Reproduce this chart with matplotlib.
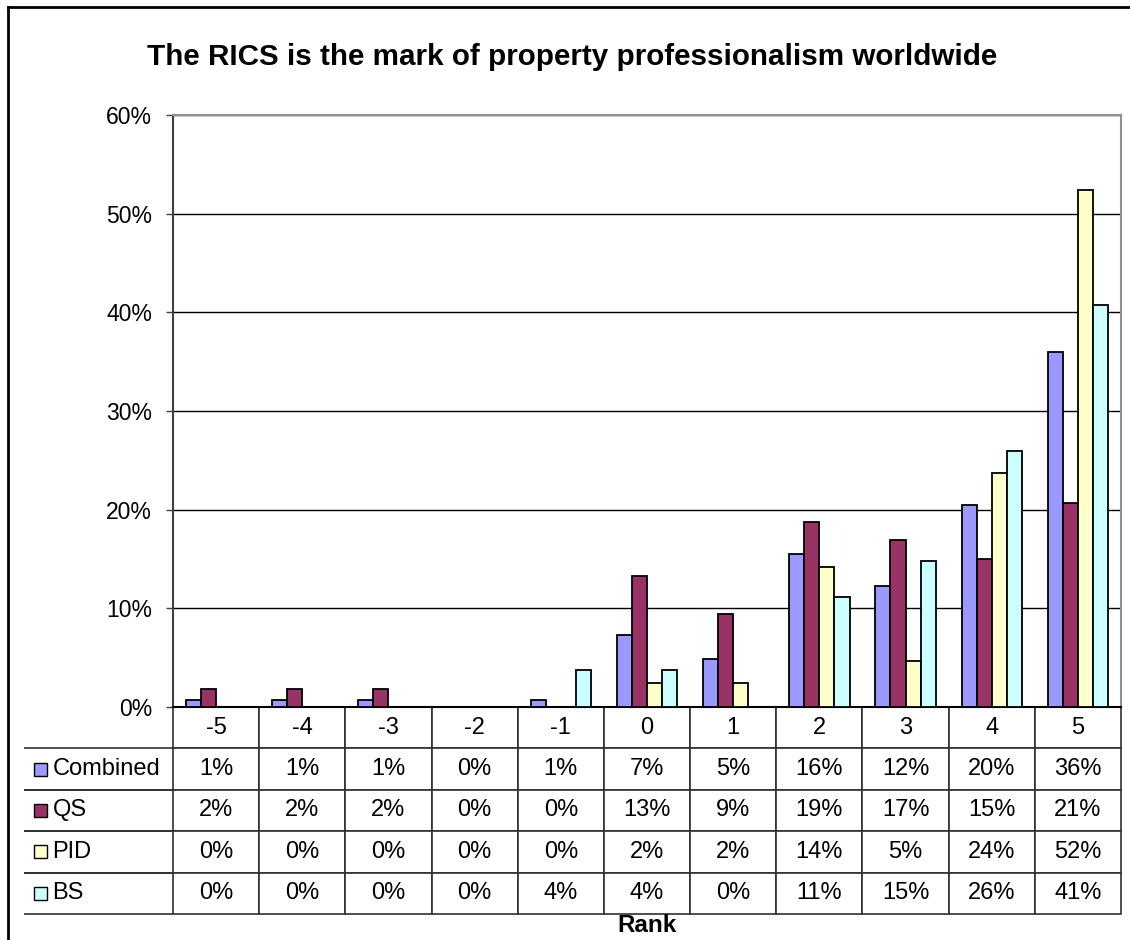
import numpy as np
import matplotlib.pyplot as plt
from matplotlib.patches import Rectangle
from matplotlib.lines import Line2D

plt.rcParams['font.family'] = ['Liberation Sans', 'DejaVu Sans']

ranks = ["-5", "-4", "-3", "-2", "-1", "0", "1", "2", "3", "4", "5"]
series = ["Combined", "QS", "PID", "BS"]
combined = [0.7, 0.7, 0.7, 0.0, 0.7, 7.3, 4.9, 15.5, 12.3, 20.5, 36.0]
qs = [1.8, 1.8, 1.8, 0.0, 0.0, 13.3, 9.4, 18.8, 16.9, 15.0, 20.7]
pid = [0.0, 0.0, 0.0, 0.0, 0.0, 2.4, 2.4, 14.2, 4.7, 23.7, 52.4]
bs = [0.0, 0.0, 0.0, 0.0, 3.7, 3.7, 0.0, 11.1, 14.8, 25.9, 40.7]
colors = ["#9999FF", "#993366", "#FFFFCC", "#CCFFFF"]
title = "The RICS is the mark of property professionalism worldwide"

data = [combined, qs, pid, bs]

fig = plt.figure(figsize=(11.3, 9.4), dpi=100)
ax = fig.add_axes([173/1130, 1 - 707/940, 948/1130, 592/940])

x = np.arange(len(ranks))
w = 0.175
for i, (vals, c) in enumerate(zip(data, colors)):
    ax.bar(x + (i - 1.5) * w, np.array(vals) / 100, width=w, color=c,
           edgecolor="black", linewidth=1.3, zorder=3)

ax.set_xlim(-0.5, len(ranks) - 0.5)
ax.set_ylim(0, 0.6)
yt = np.arange(0, 0.61, 0.1)
ax.set_yticks(yt)
ax.set_yticklabels([f"{int(round(v*100))}%" for v in yt])
ax.tick_params(axis="y", length=5, width=1, color="#404040", labelsize=16.5, pad=10)
ax.set_xticks([])
ax.yaxis.grid(True, color="black", linewidth=1, zorder=0)
ax.set_axisbelow(True)
ax.spines["top"].set_color("#909090")
ax.spines["right"].set_color("#909090")
ax.spines["top"].set_linewidth(1.5)
ax.spines["right"].set_linewidth(1.5)
ax.spines["left"].set_color("#404040")
ax.spines["left"].set_linewidth(1.5)
ax.spines["bottom"].set_color("black")
ax.spines["bottom"].set_linewidth(1.5)

# data table under the axis
cell_text = [[f"{round(v):.0f}%" for v in vals] for vals in data]
col_w = 1 / len(ranks)
lab_w = 146 / 948
row_h = 41.4 / 592
table = ax.table(cellText=cell_text, rowLabels=series, colLabels=ranks,
                 cellLoc="center", rowLoc="left", loc="bottom")
table.auto_set_font_size(False)
table.set_fontsize(17)
for (r, c), cell in table.get_celld().items():
    cell.set_edgecolor("#303030")
    cell.set_linewidth(1.2)
    cell.set_height(row_h)
    if c == -1:
        cell.set_width(lab_w)
        cell.visible_edges = "TB"
        cell.PAD = 0.19
    else:
        cell.set_width(col_w)

key_w = 13 / 948
key_h = 13 / 592
for i, c in enumerate(colors):
    yc = -row_h * (i + 1.5)
    ax.add_patch(Rectangle((-lab_w + 7 / 948, yc - key_h / 2), key_w, key_h,
                           transform=ax.transAxes, facecolor=c,
                           edgecolor="black", linewidth=1, clip_on=False, zorder=5))

ax.text(0.5, (707 - 926) / 592, "Rank", transform=ax.transAxes, ha="center",
        va="center", fontsize=17.5, fontweight="bold")

fig.text(572 / 1130, 1 - 57 / 940, title, ha="center", va="center",
         fontsize=21.3, fontweight="bold")

# outer chart frame
fig.add_artist(Line2D([8 / 1130, 1], [1 - 7 / 940, 1 - 7 / 940],
                      transform=fig.transFigure, color="black", linewidth=2))
fig.add_artist(Line2D([8 / 1130, 8 / 1130], [0, 1 - 7 / 940],
                      transform=fig.transFigure, color="black", linewidth=2))

fig.savefig("out.png", dpi=100)
